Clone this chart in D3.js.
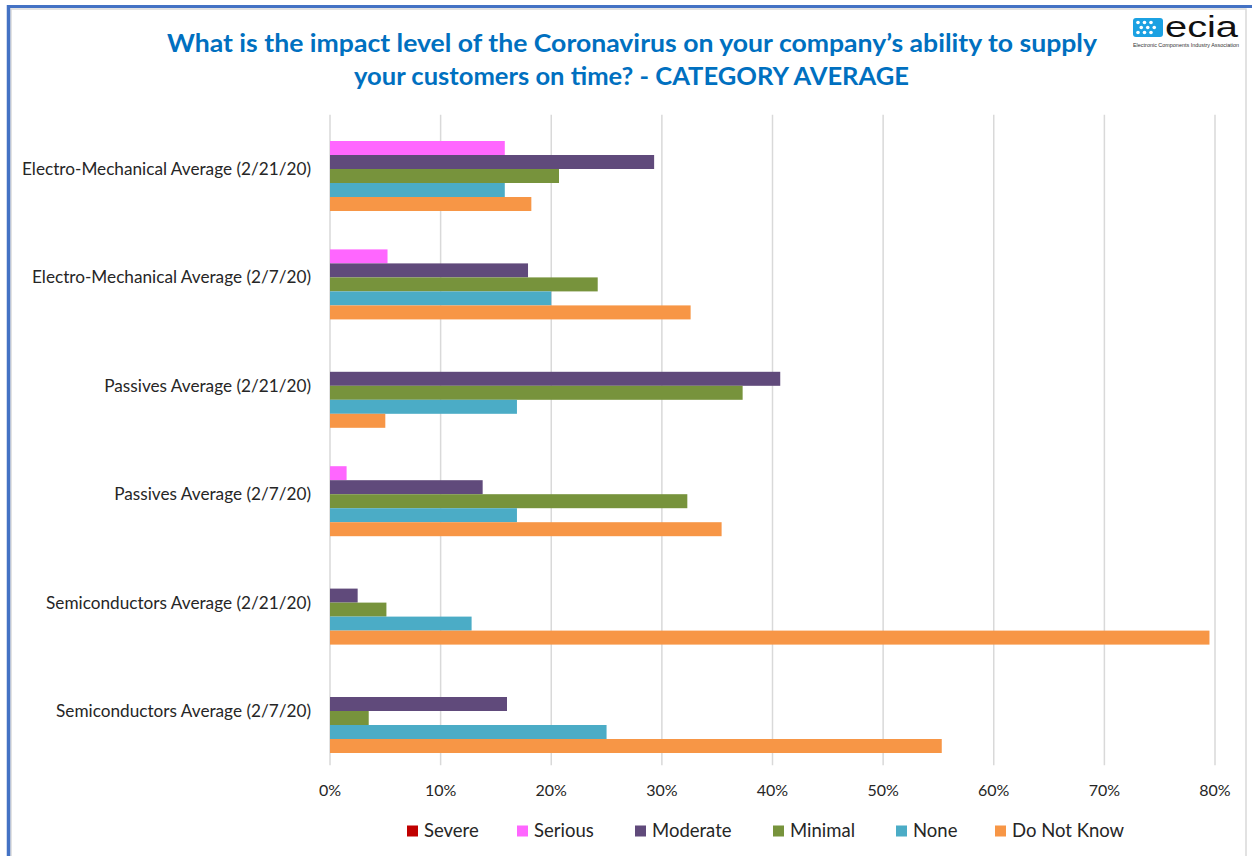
<!DOCTYPE html>
<html>
<head>
<meta charset="utf-8">
<script src="https://cdn.jsdelivr.net/npm/d3@7"></script>
<style>
  body { margin: 0; background: #fff; }
  svg { display: block; }
</style>
</head>
<body>
<svg id="chart" width="1252" height="856"></svg>
<script>
// categories, top to bottom as shown
const categories = [
  'Electro-Mechanical Average (2/21/20)',
  'Electro-Mechanical Average (2/7/20)',
  'Passives Average (2/21/20)',
  'Passives Average (2/7/20)',
  'Semiconductors Average (2/21/20)',
  'Semiconductors Average (2/7/20)'
]
const seriesNames = ['Severe', 'Serious', 'Moderate', 'Minimal', 'None', 'Do Not Know']
const seriesColors = ['#C00000', '#FF66FF', '#604A7B', '#77933C', '#4BACC6', '#F79646']

// percent values per series, same order as categories
const severe = [0, 0, 0, 0, 0, 0]
const serious = [15.8, 5.2, 0, 1.5, 0, 0]
const moderate = [29.3, 17.9, 40.7, 13.8, 2.5, 16.0]
const minimal = [20.7, 24.2, 37.3, 32.3, 5.1, 3.5]
const none = [15.8, 20.0, 16.9, 16.9, 12.8, 25.0]
const doNotKnow = [18.2, 32.6, 5.0, 35.4, 79.5, 55.3]
const xTicks = [0, 10, 20, 30, 40, 50, 60, 70, 80]

const seriesValues = [severe, serious, moderate, minimal, none, doNotKnow]

const font = 'Lato, Open Sans, sans-serif'
const svg = d3.select('#chart')

// frame
svg.append('rect').attr('x', 11).attr('y', 9).attr('width', 1235).attr('height', 860)
  .attr('fill', 'none').attr('stroke', '#d9d9d9').attr('stroke-width', 1.5)
svg.append('line').attr('x1', 7).attr('x2', 1252).attr('y1', 6.5).attr('y2', 6.5)
  .attr('stroke', '#4472C4').attr('stroke-width', 3)
svg.append('line').attr('x1', 8.5).attr('x2', 8.5).attr('y1', 5).attr('y2', 856)
  .attr('stroke', '#4472C4').attr('stroke-width', 3.5)

// title
const title = svg.append('g')
  .attr('font-family', font)
  .attr('font-weight', 'bold')
  .attr('fill', '#0070C0')
  .attr('font-size', 24.5)
title.append('text').attr('x', 167).attr('y', 52)
  .attr('textLength', 930).attr('lengthAdjust', 'spacingAndGlyphs')
  .text('What is the impact level of the Coronavirus on your company\u2019s ability to supply')
title.append('text').attr('x', 354).attr('y', 85)
  .attr('textLength', 555).attr('lengthAdjust', 'spacingAndGlyphs')
  .text('your customers on time? - CATEGORY  AVERAGE')

// logo
const logo = svg.append('g')
logo.append('rect').attr('x', 1133).attr('y', 18).attr('width', 30).attr('height', 19)
  .attr('rx', 3).attr('fill', '#1BA1E2')
const dots = [[0, 0], [1, 0], [2, 0], [0.5, 1], [1.5, 1], [2.5, 1], [0, 2], [1, 2], [2, 2]]
logo.selectAll('circle').data(dots).join('circle')
  .attr('cx', d => 1138 + d[0] * 6.5)
  .attr('cy', d => 22.5 + d[1] * 5)
  .attr('r', 1.8)
  .attr('fill', '#fff')
logo.append('text').attr('x', 1165).attr('y', 37)
  .attr('font-family', 'Liberation Sans, sans-serif').attr('font-size', 30)
  .attr('textLength', 73).attr('lengthAdjust', 'spacingAndGlyphs')
  .attr('fill', '#111').text('ecia')
logo.append('text').attr('x', 1133).attr('y', 47)
  .attr('font-family', 'Liberation Sans, sans-serif').attr('font-size', 5)
  .attr('textLength', 106).attr('lengthAdjust', 'spacingAndGlyphs')
  .attr('fill', '#333').text('Electronic Components Industry Association')

// plot area
const plot = { left: 330, right: 1215, top: 114.8, bottom: 765.2 }

const x = d3.scaleLinear().domain([0, 80]).range([plot.left, plot.right])
const y = d3.scaleBand().domain(categories).range([plot.top, plot.bottom])
  .paddingInner(0.225).paddingOuter(0.1125)
const ySub = d3.scaleBand().domain(seriesNames).range([0, y.bandwidth()])

// gridlines
svg.append('g').selectAll('line').data(xTicks).join('line')
  .attr('x1', d => x(d)).attr('x2', d => x(d))
  .attr('y1', plot.top).attr('y2', plot.bottom)
  .attr('stroke', '#d9d9d9').attr('stroke-width', 1.5)

// bars
const barData = []
seriesNames.forEach((s, si) => {
  categories.forEach((c, ci) => {
    barData.push({ series: s, category: c, value: seriesValues[si][ci], color: seriesColors[si] })
  })
})

svg.append('g').selectAll('rect').data(barData.filter(d => d.value > 0)).join('rect')
  .attr('x', x(0))
  .attr('y', d => y(d.category) + ySub(d.series))
  .attr('width', d => x(d.value) - x(0))
  .attr('height', ySub.bandwidth())
  .attr('fill', d => d.color)

// category labels
svg.append('g').selectAll('text').data(categories).join('text')
  .attr('x', 311)
  .attr('y', d => y(d) + y.bandwidth() / 2)
  .attr('dy', '0.35em')
  .attr('text-anchor', 'end')
  .attr('font-family', font)
  .attr('font-size', 17.2)
  .attr('fill', '#262626')
  .text(d => d)

// x axis tick labels
svg.append('g').selectAll('text').data(xTicks).join('text')
  .attr('x', d => x(d))
  .attr('y', 790)
  .attr('dy', '0.35em')
  .attr('text-anchor', 'middle')
  .attr('font-family', font)
  .attr('font-size', 16)
  .attr('fill', '#262626')
  .text(d => d + '%')

// legend
const legendX = [407, 517, 635, 773, 896, 995]
const legend = svg.append('g').selectAll('g').data(seriesNames).join('g')
  .attr('transform', (d, i) => `translate(${legendX[i]},831)`)
legend.append('rect').attr('x', 0).attr('y', -5.5).attr('width', 11).attr('height', 11)
  .attr('fill', (d, i) => seriesColors[i])
legend.append('text').attr('x', 17).attr('dy', '0.35em')
  .attr('font-family', font)
  .attr('font-size', 18.5)
  .attr('fill', '#262626')
  .text(d => d)
</script>
</body>
</html>
